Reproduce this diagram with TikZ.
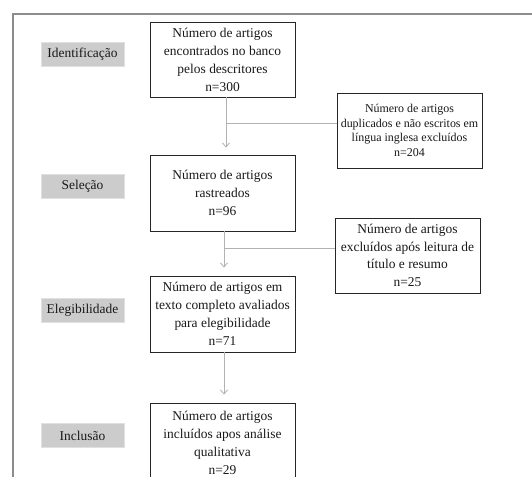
\documentclass[tikz,border=0pt]{standalone}
\usepackage{fontspec}
\setmainfont{Liberation Serif}
\usetikzlibrary{arrows.meta}
\begin{document}
\begin{tikzpicture}[x=1bp,y=-1bp,
  mainbox/.style={draw=black!85,line width=0.9bp,minimum width=145bp,minimum height=75bp,align=center,font=\fontsize{13.5}{18}\selectfont,text=black!90,inner sep=0pt},
  sidebox/.style={draw=black!85,line width=0.9bp,minimum width=145bp,minimum height=75bp,align=center,inner sep=0pt,text=black!90},
  stage/.style={fill=black!20,draw=black!12,minimum width=83bp,minimum height=24bp,inner sep=0pt,font=\fontsize{13.5}{16}\selectfont,text=black!90},
  conn/.style={draw=black!30,line width=0.8bp},
  arr/.style={conn,-{Straight Barb[length=4bp,width=7bp]}}]
\useasboundingbox (0,0) rectangle (532,477);
\clip (0,0) rectangle (532,477);
\fill[white] (0,0) rectangle (532,477);
\draw[black!45,line width=1.5bp] (13,14) rectangle (545,495);
% main boxes
\node[mainbox] (b1) at (222.5,59.5) {Número de artigos\\encontrados no banco\\pelos descritores\\n=300};
\node[mainbox,minimum height=76bp] (b2) at (222.5,193) {Número de artigos\\rastreados\\n=96};
\node[mainbox,minimum height=76bp] (b3) at (222.5,314) {Número de artigos em\\texto completo avaliados\\para elegibilidade\\n=71};
\node[mainbox,minimum height=80bp] (b4) at (222.5,443) {Número de artigos\\incluídos apos análise\\qualitativa\\n=29};
% side boxes
\node[sidebox,font=\fontsize{12}{14.5}\selectfont] (r1) at (409.5,130.5) {Número de artigos\\duplicados e não escritos em\\língua inglesa excluídos\\n=204};
\node[sidebox,font=\fontsize{13.5}{17.5}\selectfont] (r2) at (407.5,255.5) {Número de artigos\\excluídos após leitura de\\título e resumo\\n=25};
% stage labels
\node[stage] (s1) at (82.5,54) {Identificação};
\node[stage] (s2) at (82.5,186) {Seleção};
\node[stage] (s3) at (82.5,310.5) {Elegibilidade};
\node[stage] (s4) at (82.5,435.5) {Inclusão};
% connectors
\coordinate (t1) at (226,97);
\coordinate (t2) at (224,231);
\coordinate (t3) at (224,352);
\coordinate (j1) at (226,123);
\coordinate (j2) at (224,248);
\draw[arr] (t1) -- (t1 |- b2.north) [shorten >=7bp];
\draw[arr,shorten >=8bp] (t2) -- (t2 |- b3.north);
\draw[arr,shorten >=8bp] (t3) -- (t3 |- b4.north);
\draw[conn] (j1) -- (j1 -| r1.west);
\draw[conn] (j2) -- (j2 -| r2.west);
\end{tikzpicture}
\end{document}
